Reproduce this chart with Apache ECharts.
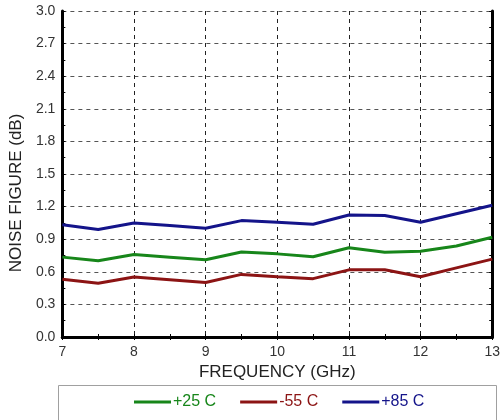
<!DOCTYPE html>
<html>
<head>
<meta charset="utf-8">
<script src="https://cdn.jsdelivr.net/npm/echarts@6/dist/echarts.min.js"></script>
<style>html,body{margin:0;padding:0;background:#fff}#c{width:503px;height:420px}</style>
</head>
<body>
<div id="c"></div>
<script>
var freqs = [7, 7.5, 8, 8.5, 9, 9.5, 10, 10.5, 11, 11.5, 12, 12.5, 13];
var nf25 = [0.735, 0.702, 0.759, 0.735, 0.711, 0.783, 0.765, 0.738, 0.822, 0.780, 0.790, 0.837, 0.918];
var nfM55 = [0.531, 0.495, 0.552, 0.527, 0.501, 0.576, 0.555, 0.537, 0.618, 0.618, 0.555, 0.636, 0.717];
var nf85 = [1.032, 0.990, 1.050, 1.025, 1.000, 1.071, 1.056, 1.038, 1.122, 1.119, 1.056, 1.134, 1.212];
var seriesNames = ['+25 C', '-55 C', '+85 C'];

function pairs(v) { return freqs.map(function (f, i) { return [f, v[i]]; }); }

var chart = echarts.init(document.getElementById('c'));
var font = 'Liberation Sans, Arial, sans-serif';
var colors = ['#17861a', '#8c1414', '#14148a'];

chart.setOption({
  animation: false,
  textStyle: { fontFamily: font },
  grid: { left: 59, right: 7, top: 11, bottom: 83 },
  graphic: [{
    type: 'rect',
    shape: { x: 58.5, y: 385.5, width: 438, height: 50 },
    style: { fill: '#fff', stroke: '#a0a0a0', lineWidth: 1 },
    z: -1
  }],
  legend: {
    bottom: 5, left: 129,
    itemWidth: 37, itemHeight: 3, itemGap: 24,
    icon: 'rect',
    textStyle: { fontFamily: font, fontSize: 16, padding: [0, 0, 0, -3] },
    data: seriesNames.map(function (n, i) { return { name: n, textStyle: { color: colors[i] } }; })
  },
  xAxis: [{
    type: 'value', min: 7, max: 13, interval: 1,
    name: 'FREQUENCY (GHz)', nameLocation: 'middle', nameGap: 26,
    nameTextStyle: { fontFamily: font, fontSize: 17, color: '#222' },
    axisLine: { lineStyle: { color: '#000', width: 3 } },
    axisTick: { inside: true, length: 3, lineStyle: { color: '#000' } },
    minorTick: { show: true, splitNumber: 2, length: 3, lineStyle: { color: '#000' } },
    axisLabel: { fontFamily: font, fontSize: 14, color: '#333', margin: 8 },
    splitLine: { show: true, lineStyle: { color: '#222', type: [4, 4], width: 1 } }
  }, {
    type: 'value', min: 7, max: 13, interval: 1, position: 'top',
    axisLine: { show: true, lineStyle: { color: '#000', width: 3 } },
    axisTick: { inside: true, length: 3, lineStyle: { color: '#000' } },
    minorTick: { show: true, splitNumber: 2, length: 3, lineStyle: { color: '#000' } },
    axisLabel: { show: false }, splitLine: { show: false }
  }],
  yAxis: [{
    type: 'value', min: 0, max: 3, interval: 0.3,
    name: 'NOISE FIGURE (dB)', nameLocation: 'middle', nameGap: 31,
    nameTextStyle: { fontFamily: font, fontSize: 17, color: '#222', padding: [0, 38, 0, 0] },
    axisLine: { show: true, lineStyle: { color: '#000', width: 3 } },
    axisTick: { show: true, inside: true, length: 3, lineStyle: { color: '#000' } },
    minorTick: { show: true, splitNumber: 2, length: 3, lineStyle: { color: '#000' } },
    axisLabel: { fontFamily: font, fontSize: 14, color: '#333', margin: 7,
      formatter: function (v) { return v.toFixed(1); } },
    splitLine: { show: true, lineStyle: { color: '#555', type: [4, 4], width: 1 } }
  }, {
    type: 'value', min: 0, max: 3, interval: 0.3, position: 'right',
    axisLine: { show: true, lineStyle: { color: '#000', width: 3 } },
    axisTick: { show: true, inside: true, length: 3, lineStyle: { color: '#000' } },
    minorTick: { show: true, splitNumber: 2, length: 3, lineStyle: { color: '#000' } },
    axisLabel: { show: false }, splitLine: { show: false }
  }],
  series: [nf25, nfM55, nf85].map(function (v, i) {
    return {
      name: seriesNames[i], type: 'line', data: pairs(v),
      showSymbol: false, symbol: 'none',
      lineStyle: { color: colors[i], width: 3 },
      itemStyle: { color: colors[i] }
    };
  })
});
</script>
</body>
</html>
